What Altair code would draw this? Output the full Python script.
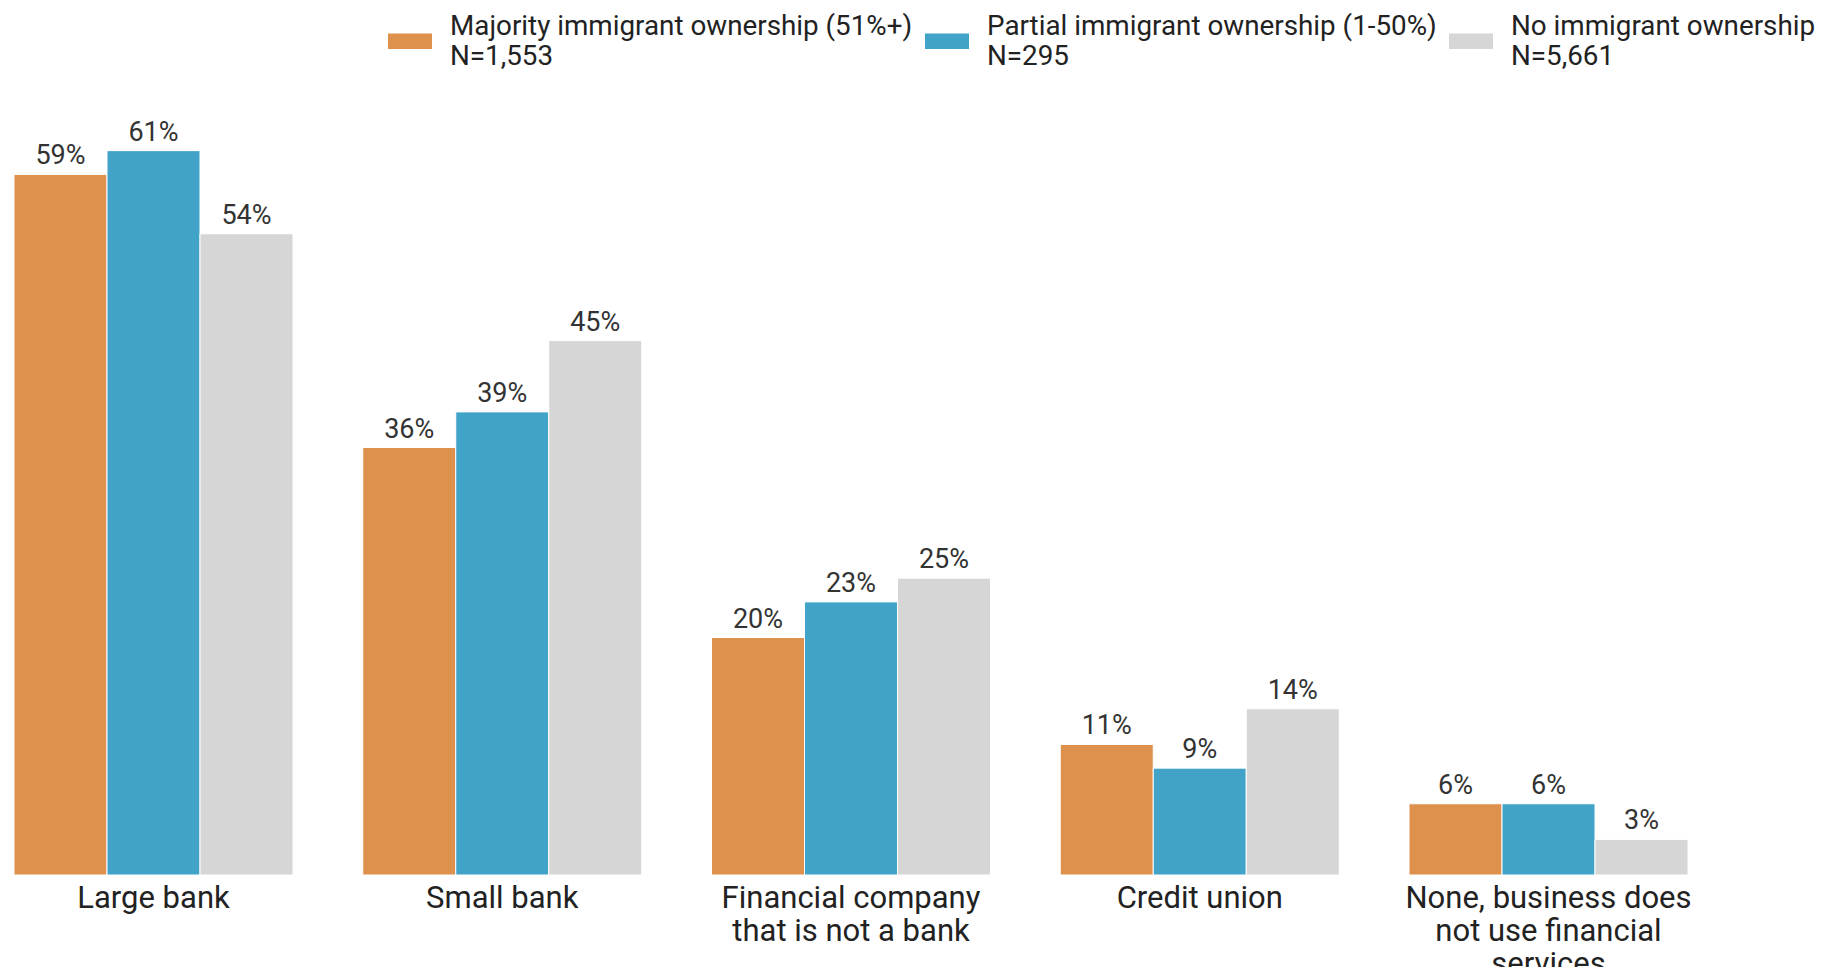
import altair as alt
import pandas as pd

categories = [
    "Large bank",
    "Small bank",
    "Financial company|that is not a bank",
    "Credit union",
    "None, business does|not use financial|services",
]
series = [
    "Majority immigrant ownership (51%+)|N=1,553",
    "Partial immigrant ownership (1-50%)|N=295",
    "No immigrant ownership|N=5,661",
]
colors = ["#DE914C", "#42A3C8", "#D6D6D6"]

majority = [59, 36, 20, 11, 6]
partial = [61, 39, 23, 9, 6]
none_ = [54, 45, 25, 14, 3]

rows = []
for i, c in enumerate(categories):
    for s, vals in zip(series, [majority, partial, none_]):
        rows.append({"category": c, "series": s, "value": vals[i]})
df = pd.DataFrame(rows)

FONT = "Roboto"

x = alt.X(
    "category:N",
    sort=categories,
    scale=alt.Scale(paddingInner=0.2, paddingOuter=0),
    axis=alt.Axis(
        title=None,
        domain=False,
        ticks=False,
        labelAngle=0,
        labelFont=FONT,
        labelFontSize=31,
        labelColor="#222222",
        labelPadding=8,
        labelLineHeight=33,
        labelLimit=0,
        labelExpr="split(datum.label, '|')",
    ),
)
xoff = alt.XOffset("series:N", sort=series, scale=alt.Scale(paddingInner=0, paddingOuter=0))
y = alt.Y("value:Q", scale=alt.Scale(domain=[0, 64], nice=False, zero=True), axis=None)

bars = alt.Chart(df).mark_bar(stroke="white", strokeWidth=1).encode(
    x=x,
    xOffset=xoff,
    y=y,
    color=alt.Color(
        "series:N",
        sort=series,
        scale=alt.Scale(domain=series, range=colors),
        legend=alt.Legend(
            title=None,
            orient="none",
            direction="horizontal",
            legendX=374,
            legendY=-96,
            symbolType="M-1,-0.35L1,-0.35L1,0.35L-1,0.35Z",
            symbolSize=1936,
            symbolStrokeWidth=0,
            labelFont=FONT,
            labelFontSize=27.8,
            labelColor="#222222",
            labelOffset=18,
            labelLimit=0,
            labelBaseline="bottom",
            columnPadding=12,
            labelExpr="split(datum.label, '|')",
        ),
    ),
)

labels = alt.Chart(df).mark_text(
    font=FONT, fontSize=27, color="#333333", dy=-18, baseline="middle"
).encode(
    x=x,
    xOffset=xoff,
    y=y,
    text=alt.Text("label:N"),
).transform_calculate(label="datum.value + '%'")

chart = (
    alt.layer(bars, labels)
    .properties(
        width=1674,
        height=760,
        background="white",
        autosize=alt.AutoSizeParams(type="none"),
        padding={"left": 6, "top": 107, "right": 133, "bottom": 92},
    )
    .configure_view(strokeWidth=0, stroke="transparent")
)

chart.save("out.html", embed_options={"renderer": "svg", "actions": False})
